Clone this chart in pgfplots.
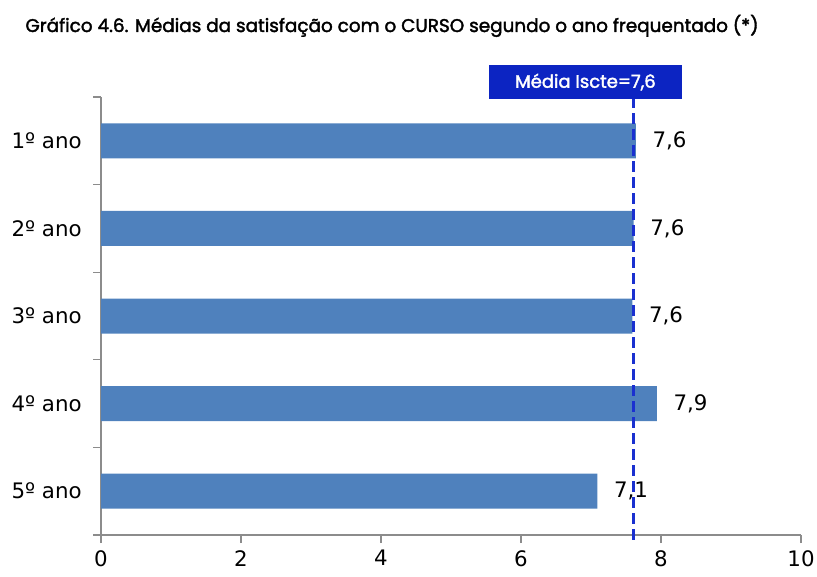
\documentclass[border=0pt]{standalone}
\usepackage{fontspec}
\setmainfont{DejaVu Sans}
\newfontfamily\titlefont[FakeBold=2]{Poppins}
\usepackage{pgfplots}
\pgfplotsset{compat=1.18}
\definecolor{barblue}{HTML}{4F81BD}
\definecolor{boxblue}{HTML}{0C24C2}
\definecolor{dashblue}{HTML}{1A30D0}
\definecolor{axgray}{HTML}{8C8C8C}
\begin{document}
\begin{tikzpicture}[x=1pt,y=1pt]
\useasboundingbox (0,0) rectangle (612.75,432);
\node[anchor=base, font=\titlefont\fontsize{13.8pt}{16pt}\selectfont] at (294,408) {Gráfico 4.6. Médias da satisfação com o CURSO segundo o ano frequentado (*)};
\begin{axis}[
  at={(75.75pt,30.75pt)}, anchor=south west,
  scale only axis, width=525pt, height=328.5pt,
  xbar, bar width=26.25pt,
  xmin=0, xmax=10, ymin=0.5, ymax=5.5, y dir=reverse,
  axis lines=left, axis line style={-, axgray, line width=1pt},
  xtick={0,2,...,10},
  ytick={0.5,1.5,...,5.5}, yticklabels={},
  extra y ticks={1,2,3,4,5},
  extra y tick labels={1º ano,2º ano,3º ano,4º ano,5º ano},
  extra y tick style={major tick length=0pt, tick style={draw=none}, yticklabel style={xshift=-11pt}},
  tick align=outside,
  major tick length=6pt,
  tick style={axgray, line width=1pt},
  every tick label/.append style={font=\fontsize{16pt}{18pt}\selectfont},
  xticklabel style={yshift=-2pt},
  /pgf/number format/assume math mode=true,
  nodes near coords,
  nodes near coords style={font=\fontsize{16pt}{18pt}\selectfont, xshift=9pt,
    /pgf/number format/.cd, fixed, fixed zerofill, precision=1, use comma, assume math mode=true},
  clip=false,
]
\addplot[fill=barblue, draw=none] coordinates {(7.64,1) (7.61,2) (7.59,3) (7.94,4) (7.09,5)};
\draw[dashblue, line width=2.2pt, dash pattern=on 8pt off 4pt] (axis cs:7.61,0.5) -- (axis cs:7.61,5.58);
\end{axis}
\node[fill=boxblue, minimum width=144.75pt, minimum height=25.5pt, inner sep=0pt, text=white, font=\titlefont\fontsize{13.5pt}{15pt}\selectfont] at (439.1,370.5) {Média Iscte=7,6};
\end{tikzpicture}
\end{document}
